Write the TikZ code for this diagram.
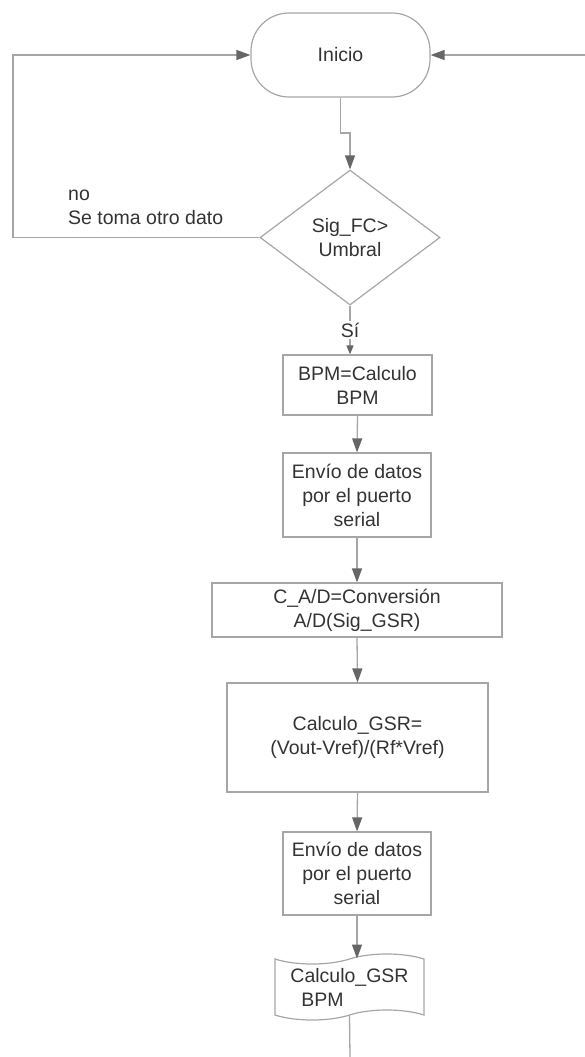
\documentclass[tikz,border=0pt]{standalone}
\usepackage{fontspec}
\setmainfont{Liberation Sans}
\usetikzlibrary{shapes.geometric,shapes.symbols,arrows.meta}
\definecolor{linegray}{HTML}{A6A6A6}
\definecolor{tipgray}{HTML}{666666}
\definecolor{textgray}{HTML}{333333}

\begin{document}
\begin{tikzpicture}[
  x=1pt, y=-1pt,
  every node/.style={font=\fontsize{19.5}{24}\selectfont, text=textgray, align=center, inner sep=0pt},
  term/.style={draw=linegray, line width=1.2pt, rounded corners=38pt},
  proc/.style={draw=linegray, line width=1.2pt},
  cond/.style={diamond, draw=linegray, line width=1.2pt},
  outdoc/.style={tape, draw=linegray, line width=1.2pt, tape bend height=10pt},
  arr/.style={draw=linegray, line width=1.3pt, -{Triangle[length=14pt,width=10pt,color=tipgray]}},
  arrs/.style={draw=linegray, line width=1.3pt, -{Triangle[length=9pt,width=7pt,color=tipgray]}}
]
  \useasboundingbox (0,0) rectangle (585,1057);

  \node[term, minimum width=179, minimum height=84] (ini) at (340.5,55) {Inicio};
  \node[cond, minimum width=180, minimum height=135] (dec) at (350,237.5) {Sig\_FC>\\Umbral};
  \node[proc, minimum width=149, minimum height=60] (bpm) at (357.5,385) {BPM=Calculo\\BPM};
  \node[proc, minimum width=148, minimum height=84] (env1) at (357,495) {Envío de datos\\por el puerto\\serial};
  \node[proc, minimum width=290, minimum height=54] (cad) at (357,610) {C\_A/D=Conversión\\A/D(Sig\_GSR)};
  \node[proc, minimum width=261, minimum height=109] (gsr) at (357.5,737.5) {Calculo\_GSR=\\(Vout-Vref)/(Rf*Vref)};
  \node[proc, minimum width=148, minimum height=83] (env2) at (357,873.5) {Envío de datos\\por el puerto\\serial};
  \node[outdoc, minimum width=149, minimum height=66, align=left] (out) at (349.5,987) {Calculo\_GSR\\\hspace{11pt}BPM};
  \node[anchor=base west, align=left] (nolbl) at (68,224) {no\\Se toma otro dato};

  \coordinate (ltop) at (13,55);
  \coordinate (rin) at (585,55);
  \coordinate (jog) at (340.5,133);
  \coordinate (fin) at (350,1057);

  \draw[arr] (ini.south) -- (jog) -| (dec.north);
  \draw[arr] (dec.west) -| (ltop) -- (ini.west);
  \draw[arr] (rin) -- (ini.east);
  \draw[arrs] (dec.south) -- node[fill=white, inner sep=2pt] {Sí} (dec.south |- bpm.north);
  \draw[arr] (bpm.south) -- (env1.north);
  \draw[arr] (env1.south) -- (cad.north);
  \draw[arr] (cad.south) -- (gsr.north);
  \draw[arr] (gsr.south) -- (env2.north);
  \draw[arr] (env2.south) -- (env2.south |- out.north);
  \draw[linegray, line width=1.3pt] (out.south) -- (fin);
\end{tikzpicture}
\end{document}
